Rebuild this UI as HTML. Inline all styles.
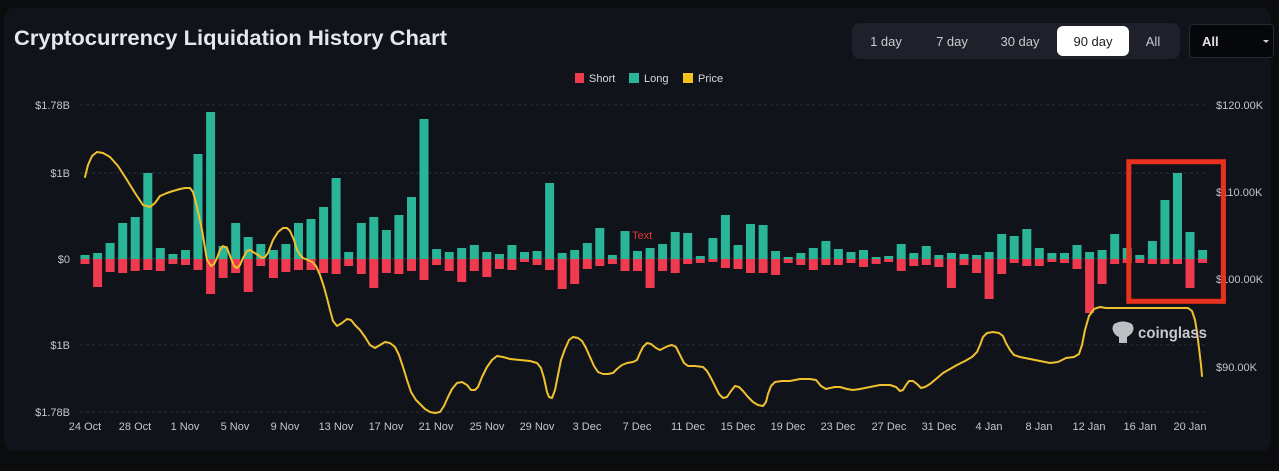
<!DOCTYPE html>
<html>
<head>
<meta charset="utf-8">
<style>
html,body{margin:0;padding:0;background:#0b0c0e;}
svg{display:block;font-family:"Liberation Sans",sans-serif;}
.l{fill:#2ab598;}
.s{fill:#f03a50;}
.ax{fill:#c2c5cb;font-size:11px;}
.g{stroke:#2c303a;stroke-width:1;stroke-dasharray:3 3;}
</style>
</head>
<body>
<svg width="1279" height="471" viewBox="0 0 1279 471" xmlns="http://www.w3.org/2000/svg">
<rect x="0" y="0" width="1279" height="471" fill="#0b0c0e"/>
<rect x="4" y="8" width="1267" height="443" rx="10" fill="#10131a"/>

<text x="14" y="45" font-size="21" font-weight="bold" fill="#e6e7ea" textLength="433" lengthAdjust="spacingAndGlyphs">Cryptocurrency Liquidation History Chart</text>

<!-- range buttons -->
<rect x="852" y="23" width="328" height="36" rx="8" fill="#1e2129"/>
<rect x="1057" y="26" width="72" height="30" rx="6" fill="#ffffff"/>
<g font-size="13" text-anchor="middle" fill="#c8cad0">
<text x="886" y="46">1 day</text>
<text x="952" y="46">7 day</text>
<text x="1020" y="46">30 day</text>
<text x="1093" y="46" fill="#1a1b1f">90 day</text>
<text x="1153" y="46">All</text>
</g>
<rect x="1189.5" y="24.5" width="84" height="33" rx="4" fill="#06070a" stroke="#262a32"/>
<text x="1202" y="46" font-size="13" font-weight="bold" fill="#e2e2e4">All</text>
<path d="M1263,40 h6 l-3,3 z" fill="#cfcfcf"/>

<!-- legend -->
<rect x="575" y="73" width="9" height="10" fill="#f03a50"/>
<text x="589" y="82" font-size="11" fill="#d8d9dc">Short</text>
<rect x="629" y="73" width="10" height="10" fill="#2ab598"/>
<text x="644" y="82" font-size="11" fill="#d8d9dc">Long</text>
<rect x="683" y="73" width="10" height="10" fill="#f2c21b"/>
<text x="698" y="82" font-size="11" fill="#d8d9dc">Price</text>

<!-- grid -->
<line class="g" x1="80" y1="105" x2="1207" y2="105"/>
<line class="g" x1="80" y1="173" x2="1207" y2="173"/>
<line class="g" x1="80" y1="259" x2="1207" y2="259"/>
<line class="g" x1="80" y1="345" x2="1207" y2="345"/>
<line class="g" x1="80" y1="412" x2="1207" y2="412"/>

<!-- left axis -->
<g class="ax" text-anchor="end">
<text x="70" y="109">$1.78B</text>
<text x="70" y="177">$1B</text>
<text x="70" y="263">$0</text>
<text x="70" y="349">$1B</text>
<text x="70" y="416">$1.78B</text>
</g>

<!-- right axis -->
<g class="ax">
<text x="1216" y="109">$120.00K</text>
<text x="1216" y="196">$110.00K</text>
<text x="1216" y="283">$100.00K</text>
<text x="1216" y="371">$90.00K</text>
</g>

<!-- x axis -->
<g class="ax" text-anchor="middle">
<text x="85" y="430">24 Oct</text>
<text x="135" y="430">28 Oct</text>
<text x="185" y="430">1 Nov</text>
<text x="235" y="430">5 Nov</text>
<text x="285" y="430">9 Nov</text>
<text x="336" y="430">13 Nov</text>
<text x="386" y="430">17 Nov</text>
<text x="436" y="430">21 Nov</text>
<text x="487" y="430">25 Nov</text>
<text x="537" y="430">29 Nov</text>
<text x="587" y="430">3 Dec</text>
<text x="637" y="430">7 Dec</text>
<text x="688" y="430">11 Dec</text>
<text x="738" y="430">15 Dec</text>
<text x="788" y="430">19 Dec</text>
<text x="838" y="430">23 Dec</text>
<text x="889" y="430">27 Dec</text>
<text x="939" y="430">31 Dec</text>
<text x="989" y="430">4 Jan</text>
<text x="1039" y="430">8 Jan</text>
<text x="1089" y="430">12 Jan</text>
<text x="1140" y="430">16 Jan</text>
<text x="1190" y="430">20 Jan</text>
</g>

<!-- long bars -->
<g>
<rect class="l" x="80.5" y="255" width="9" height="4"/>
<rect class="l" x="93.1" y="253" width="9" height="6"/>
<rect class="l" x="105.6" y="243" width="9" height="16"/>
<rect class="l" x="118.2" y="223" width="9" height="36"/>
<rect class="l" x="130.7" y="217" width="9" height="42"/>
<rect class="l" x="143.3" y="173" width="9" height="86"/>
<rect class="l" x="155.8" y="248" width="9" height="11"/>
<rect class="l" x="168.4" y="254" width="9" height="5"/>
<rect class="l" x="181.0" y="250" width="9" height="9"/>
<rect class="l" x="193.5" y="154" width="9" height="105"/>
<rect class="l" x="206.1" y="112" width="9" height="147"/>
<rect class="l" x="218.6" y="246" width="9" height="13"/>
<rect class="l" x="231.2" y="223" width="9" height="36"/>
<rect class="l" x="243.7" y="237" width="9" height="22"/>
<rect class="l" x="256.3" y="244" width="9" height="15"/>
<rect class="l" x="268.9" y="250" width="9" height="9"/>
<rect class="l" x="281.4" y="244" width="9" height="15"/>
<rect class="l" x="294.0" y="223" width="9" height="36"/>
<rect class="l" x="306.5" y="219" width="9" height="40"/>
<rect class="l" x="319.1" y="207" width="9" height="52"/>
<rect class="l" x="331.6" y="178" width="9" height="81"/>
<rect class="l" x="344.2" y="252" width="9" height="7"/>
<rect class="l" x="356.8" y="223" width="9" height="36"/>
<rect class="l" x="369.3" y="217" width="9" height="42"/>
<rect class="l" x="381.9" y="230" width="9" height="29"/>
<rect class="l" x="394.4" y="215" width="9" height="44"/>
<rect class="l" x="407.0" y="197" width="9" height="62"/>
<rect class="l" x="419.5" y="119" width="9" height="140"/>
<rect class="l" x="432.1" y="249" width="9" height="10"/>
<rect class="l" x="444.7" y="252" width="9" height="7"/>
<rect class="l" x="457.2" y="248" width="9" height="11"/>
<rect class="l" x="469.8" y="245" width="9" height="14"/>
<rect class="l" x="482.3" y="252" width="9" height="7"/>
<rect class="l" x="494.9" y="254" width="9" height="5"/>
<rect class="l" x="507.4" y="245" width="9" height="14"/>
<rect class="l" x="520.0" y="252" width="9" height="7"/>
<rect class="l" x="532.6" y="251" width="9" height="8"/>
<rect class="l" x="545.1" y="183" width="9" height="76"/>
<rect class="l" x="557.7" y="253" width="9" height="6"/>
<rect class="l" x="570.2" y="250" width="9" height="9"/>
<rect class="l" x="582.8" y="243" width="9" height="16"/>
<rect class="l" x="595.3" y="228" width="9" height="31"/>
<rect class="l" x="607.9" y="255" width="9" height="4"/>
<rect class="l" x="620.5" y="231" width="9" height="28"/>
<rect class="l" x="633.0" y="251" width="9" height="8"/>
<rect class="l" x="645.6" y="248" width="9" height="11"/>
<rect class="l" x="658.1" y="244" width="9" height="15"/>
<rect class="l" x="670.7" y="232" width="9" height="27"/>
<rect class="l" x="683.2" y="233" width="9" height="26"/>
<rect class="l" x="695.8" y="256" width="9" height="3"/>
<rect class="l" x="708.4" y="238" width="9" height="21"/>
<rect class="l" x="720.9" y="215" width="9" height="44"/>
<rect class="l" x="733.5" y="245" width="9" height="14"/>
<rect class="l" x="746.0" y="224" width="9" height="35"/>
<rect class="l" x="758.6" y="225" width="9" height="34"/>
<rect class="l" x="771.1" y="251" width="9" height="8"/>
<rect class="l" x="783.7" y="257" width="9" height="2"/>
<rect class="l" x="796.3" y="253" width="9" height="6"/>
<rect class="l" x="808.8" y="248" width="9" height="11"/>
<rect class="l" x="821.4" y="241" width="9" height="18"/>
<rect class="l" x="833.9" y="249" width="9" height="10"/>
<rect class="l" x="846.5" y="252" width="9" height="7"/>
<rect class="l" x="859.0" y="250" width="9" height="9"/>
<rect class="l" x="871.6" y="257" width="9" height="2"/>
<rect class="l" x="884.2" y="256" width="9" height="3"/>
<rect class="l" x="896.7" y="244" width="9" height="15"/>
<rect class="l" x="909.3" y="253" width="9" height="6"/>
<rect class="l" x="921.8" y="246" width="9" height="13"/>
<rect class="l" x="934.4" y="255" width="9" height="4"/>
<rect class="l" x="946.9" y="253" width="9" height="6"/>
<rect class="l" x="959.5" y="254" width="9" height="5"/>
<rect class="l" x="972.1" y="255" width="9" height="4"/>
<rect class="l" x="984.6" y="252" width="9" height="7"/>
<rect class="l" x="997.2" y="234" width="9" height="25"/>
<rect class="l" x="1009.7" y="236" width="9" height="23"/>
<rect class="l" x="1022.3" y="229" width="9" height="30"/>
<rect class="l" x="1034.8" y="248" width="9" height="11"/>
<rect class="l" x="1047.4" y="253" width="9" height="6"/>
<rect class="l" x="1060.0" y="253" width="9" height="6"/>
<rect class="l" x="1072.5" y="245" width="9" height="14"/>
<rect class="l" x="1085.1" y="252" width="9" height="7"/>
<rect class="l" x="1097.6" y="250" width="9" height="9"/>
<rect class="l" x="1110.2" y="234" width="9" height="25"/>
<rect class="l" x="1122.7" y="248" width="9" height="11"/>
<rect class="l" x="1135.3" y="255" width="9" height="4"/>
<rect class="l" x="1147.9" y="241" width="9" height="18"/>
<rect class="l" x="1160.4" y="200" width="9" height="59"/>
<rect class="l" x="1173.0" y="173" width="9" height="86"/>
<rect class="l" x="1185.5" y="232" width="9" height="27"/>
<rect class="l" x="1198.1" y="250" width="9" height="9"/>
</g>

<!-- short bars -->
<g>
<rect class="s" x="80.5" y="259" width="9" height="5"/>
<rect class="s" x="93.1" y="259" width="9" height="28"/>
<rect class="s" x="105.6" y="259" width="9" height="13"/>
<rect class="s" x="118.2" y="259" width="9" height="14"/>
<rect class="s" x="130.7" y="259" width="9" height="12"/>
<rect class="s" x="143.3" y="259" width="9" height="11"/>
<rect class="s" x="155.8" y="259" width="9" height="12"/>
<rect class="s" x="168.4" y="259" width="9" height="5"/>
<rect class="s" x="181.0" y="259" width="9" height="6"/>
<rect class="s" x="193.5" y="259" width="9" height="11"/>
<rect class="s" x="206.1" y="259" width="9" height="35"/>
<rect class="s" x="218.6" y="259" width="9" height="19"/>
<rect class="s" x="231.2" y="259" width="9" height="14"/>
<rect class="s" x="243.7" y="259" width="9" height="33"/>
<rect class="s" x="256.3" y="259" width="9" height="7"/>
<rect class="s" x="268.9" y="259" width="9" height="19"/>
<rect class="s" x="281.4" y="259" width="9" height="13"/>
<rect class="s" x="294.0" y="259" width="9" height="11"/>
<rect class="s" x="306.5" y="259" width="9" height="11"/>
<rect class="s" x="319.1" y="259" width="9" height="14"/>
<rect class="s" x="331.6" y="259" width="9" height="15"/>
<rect class="s" x="344.2" y="259" width="9" height="7"/>
<rect class="s" x="356.8" y="259" width="9" height="15"/>
<rect class="s" x="369.3" y="259" width="9" height="29"/>
<rect class="s" x="381.9" y="259" width="9" height="14"/>
<rect class="s" x="394.4" y="259" width="9" height="15"/>
<rect class="s" x="407.0" y="259" width="9" height="12"/>
<rect class="s" x="419.5" y="259" width="9" height="21"/>
<rect class="s" x="432.1" y="259" width="9" height="6"/>
<rect class="s" x="444.7" y="259" width="9" height="12"/>
<rect class="s" x="457.2" y="259" width="9" height="23"/>
<rect class="s" x="469.8" y="259" width="9" height="12"/>
<rect class="s" x="482.3" y="259" width="9" height="18"/>
<rect class="s" x="494.9" y="259" width="9" height="10"/>
<rect class="s" x="507.4" y="259" width="9" height="11"/>
<rect class="s" x="520.0" y="259" width="9" height="3"/>
<rect class="s" x="532.6" y="259" width="9" height="6"/>
<rect class="s" x="545.1" y="259" width="9" height="11"/>
<rect class="s" x="557.7" y="259" width="9" height="30"/>
<rect class="s" x="570.2" y="259" width="9" height="25"/>
<rect class="s" x="582.8" y="259" width="9" height="10"/>
<rect class="s" x="595.3" y="259" width="9" height="7"/>
<rect class="s" x="607.9" y="259" width="9" height="5"/>
<rect class="s" x="620.5" y="259" width="9" height="12"/>
<rect class="s" x="633.0" y="259" width="9" height="12"/>
<rect class="s" x="645.6" y="259" width="9" height="29"/>
<rect class="s" x="658.1" y="259" width="9" height="12"/>
<rect class="s" x="670.7" y="259" width="9" height="14"/>
<rect class="s" x="683.2" y="259" width="9" height="5"/>
<rect class="s" x="695.8" y="259" width="9" height="4"/>
<rect class="s" x="708.4" y="259" width="9" height="3"/>
<rect class="s" x="720.9" y="259" width="9" height="9"/>
<rect class="s" x="733.5" y="259" width="9" height="10"/>
<rect class="s" x="746.0" y="259" width="9" height="14"/>
<rect class="s" x="758.6" y="259" width="9" height="14"/>
<rect class="s" x="771.1" y="259" width="9" height="16"/>
<rect class="s" x="783.7" y="259" width="9" height="4"/>
<rect class="s" x="796.3" y="259" width="9" height="6"/>
<rect class="s" x="808.8" y="259" width="9" height="11"/>
<rect class="s" x="821.4" y="259" width="9" height="6"/>
<rect class="s" x="833.9" y="259" width="9" height="6"/>
<rect class="s" x="846.5" y="259" width="9" height="4"/>
<rect class="s" x="859.0" y="259" width="9" height="8"/>
<rect class="s" x="871.6" y="259" width="9" height="5"/>
<rect class="s" x="884.2" y="259" width="9" height="3"/>
<rect class="s" x="896.7" y="259" width="9" height="12"/>
<rect class="s" x="909.3" y="259" width="9" height="7"/>
<rect class="s" x="921.8" y="259" width="9" height="6"/>
<rect class="s" x="934.4" y="259" width="9" height="8"/>
<rect class="s" x="946.9" y="259" width="9" height="29"/>
<rect class="s" x="959.5" y="259" width="9" height="6"/>
<rect class="s" x="972.1" y="259" width="9" height="14"/>
<rect class="s" x="984.6" y="259" width="9" height="40"/>
<rect class="s" x="997.2" y="259" width="9" height="15"/>
<rect class="s" x="1009.7" y="259" width="9" height="4"/>
<rect class="s" x="1022.3" y="259" width="9" height="7"/>
<rect class="s" x="1034.8" y="259" width="9" height="7"/>
<rect class="s" x="1047.4" y="259" width="9" height="3"/>
<rect class="s" x="1060.0" y="259" width="9" height="4"/>
<rect class="s" x="1072.5" y="259" width="9" height="10"/>
<rect class="s" x="1085.1" y="259" width="9" height="54"/>
<rect class="s" x="1097.6" y="259" width="9" height="25"/>
<rect class="s" x="1110.2" y="259" width="9" height="5"/>
<rect class="s" x="1122.7" y="259" width="9" height="4"/>
<rect class="s" x="1135.3" y="259" width="9" height="4"/>
<rect class="s" x="1147.9" y="259" width="9" height="5"/>
<rect class="s" x="1160.4" y="259" width="9" height="5"/>
<rect class="s" x="1173.0" y="259" width="9" height="5"/>
<rect class="s" x="1185.5" y="259" width="9" height="29"/>
<rect class="s" x="1198.1" y="259" width="9" height="4"/>
</g>

<!-- "Text" annotation -->
<text x="632" y="239" font-size="11" fill="#e2393c">Text</text>

<!-- price line -->
<polyline fill="none" stroke="#efc12e" stroke-width="2" stroke-linejoin="round" stroke-linecap="round" points="85,177 88,165 92,156 97,152 103,153 110,157 118,166 127,180 135,193 143,205 150,207 155,203 160,196 167,193 173,191 180,189 185,188 190,188 193,192 197,207 202,230 207,260 211,266 214,264 217,258 220,250 223,246 227,248 230,256 234,266 237,268 240,265 243,258 247,251 250,250 253,252 258,255 262,258 265,257 268,253 273,240 278,232 283,228 287,228 290,231 294,240 297,250 300,255 303,258 308,260 312,262 316,266 320,275 324,287 327,298 330,310 333,321 337,326 342,323 347,319 351,320 355,325 360,330 365,337 370,345 375,348 380,345 385,342 390,343 395,347 399,355 403,367 407,380 411,392 416,400 420,404 425,409 430,412 435,413 440,412 444,406 448,397 452,389 457,383 462,382 467,385 471,390 475,390 478,387 482,377 487,367 492,360 497,356 503,357 510,359 520,360 530,361 537,363 541,368 544,378 547,392 549,397 552,398 555,390 558,375 561,360 565,349 569,340 573,337 578,338 582,341 586,348 590,357 594,366 598,372 603,374 608,374 613,373 617,369 622,365 627,363 633,362 637,360 640,353 643,347 647,343 651,344 656,348 660,350 664,348 668,346 672,345 676,347 680,355 684,363 688,366 695,366 703,367 707,371 711,378 715,386 719,394 723,398 727,397 731,391 735,386 739,387 743,391 748,397 753,402 758,405 763,406 766,402 768,394 771,386 775,382 782,381 790,381 800,379 810,379 816,380 821,386 826,389 830,388 835,387 840,387 847,389 853,390 860,389 870,387 880,385 890,385 896,387 900,391 903,390 906,385 909,381 913,381 917,384 921,388 925,387 930,384 936,379 943,373 950,369 957,365 965,361 972,357 977,352 980,345 983,337 987,333 993,332 999,333 1003,336 1006,343 1010,350 1014,355 1020,357 1030,359 1040,361 1050,363 1058,362 1066,358 1074,357 1079,354 1082,345 1085,330 1089,316 1094,309 1100,307 1106,308 1120,308 1140,308 1160,308 1180,308 1188,308 1192,311 1195,320 1197,332 1199,348 1201,365 1202,376"/>

<!-- coinglass watermark -->
<g fill="#bdbfc3">
<path d="M1114,324 q9,-5 18,0 q3,4 0,9 q-3,3 -5,4 l0,6 h-8 l0,-6 q-3,-1 -5,-4 q-3,-5 0,-9 z"/>
</g>
<text x="1138" y="338" font-size="16" font-weight="bold" fill="#c6c8cc" textLength="69" lengthAdjust="spacingAndGlyphs">coinglass</text>

<!-- red highlight box -->
<rect x="1128.8" y="161.7" width="94.6" height="139.6" fill="none" stroke="#e8321e" stroke-width="5"/>
</svg>
</body>
</html>
